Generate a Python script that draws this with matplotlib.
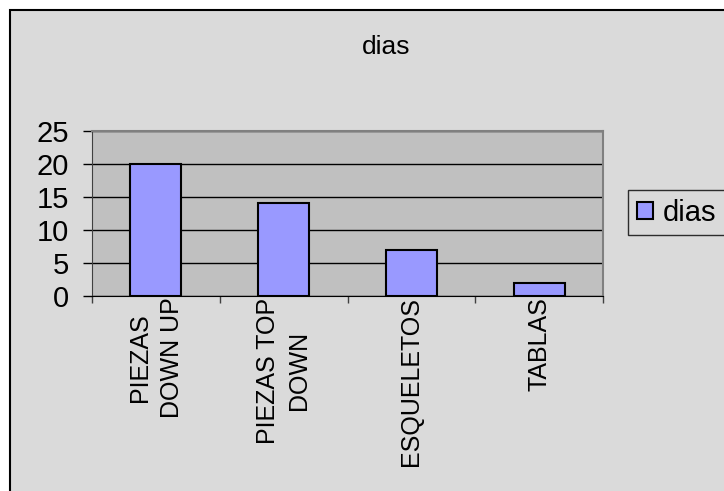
import matplotlib
matplotlib.use("Agg")
import matplotlib.pyplot as plt
from matplotlib.patches import Rectangle
import numpy as np

plt.rcParams['font.family'] = ['Liberation Sans', 'DejaVu Sans']

# data
categories = ["PIEZAS\nDOWN UP", "PIEZAS TOP\nDOWN", "ESQUELETOS", "TABLAS"]
dias = [20, 14, 7, 2]
y_ticks = [0, 5, 10, 15, 20, 25]

W, H = 724, 491
fig = plt.figure(figsize=(W / 100, H / 100), dpi=100)
fig.patch.set_facecolor("white")

# outer chart frame (cut off at right / bottom like the original)
fig.patches.append(Rectangle((10 / W, -0.05), 1.2, 1 - 10 / H + 0.05,
                             transform=fig.transFigure, facecolor="#DADADA",
                             edgecolor="black", lw=1.5, zorder=-1))

ax = fig.add_axes([92 / W, 1 - 296 / H, (603 - 92) / W, (296 - 130.5) / H])
ax.set_zorder(2)
ax.set_facecolor("#C0C0C0")

x = np.arange(len(categories))
ax.bar(x, dias, width=0.4, color="#9999FF", edgecolor="black", lw=1.5, zorder=3)

ax.set_xlim(-0.5, len(categories) - 0.5)
ax.set_ylim(0, 25)
ax.set_yticks(y_ticks)
ax.yaxis.grid(True, color="black", lw=1)
ax.set_axisbelow(True)
ax.tick_params(axis="y", length=6.5, width=1, pad=10, labelsize=21, colors="black")

ax.set_xticks(x)
ax.set_xticklabels(categories, rotation=90, fontsize=18, ha="center", va="top",
                   multialignment="center", linespacing=1.4)
ax.tick_params(axis="x", which="major", length=0, pad=1)
ax.set_xticks(np.arange(len(categories) + 1) - 0.5, minor=True)
ax.tick_params(axis="x", which="minor", length=5, width=1, color="#404040")

for side in ["top", "right"]:
    ax.spines[side].set_color("#808080")
    ax.spines[side].set_linewidth(1.5)
ax.spines["left"].set_color("#404040")
ax.spines["bottom"].set_color("black")

fig.text(386 / W, 1 - 47 / H, "dias", ha="center", va="center", fontsize=19)

leg = fig.legend(["dias"], loc="upper left", bbox_to_anchor=(628 / W, 1 - 190 / H),
                 bbox_transform=fig.transFigure, fontsize=21, frameon=True,
                 fancybox=False, borderaxespad=0, handlelength=0.55,
                 handleheight=0.55, handletextpad=0.35, borderpad=0.3)
leg.set_zorder(3)
leg.get_frame().set_facecolor("#DADADA")
leg.get_frame().set_edgecolor("black")
leg.get_frame().set_linewidth(1)

fig.savefig("out.png", dpi=100)
